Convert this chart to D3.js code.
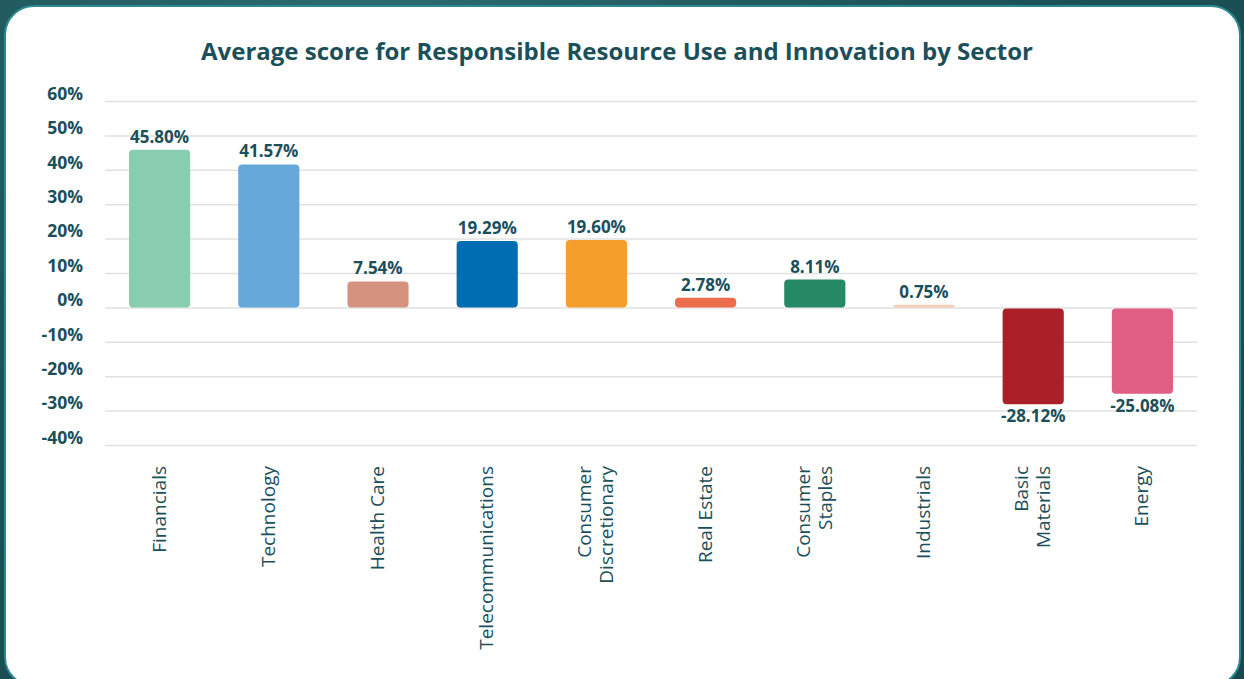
<!DOCTYPE html>
<html>
<head>
<meta charset="utf-8">
<script src="https://cdn.jsdelivr.net/npm/d3@7"></script>
<style>
  html, body { margin: 0; padding: 0; }
  body {
    width: 1244px; height: 679px; overflow: hidden;
    background: radial-gradient(ellipse at 30% 0%, #2b6b70 0%, #1d5459 45%, #174a50 100%);
    font-family: "Open Sans", "Lato", sans-serif;
  }
  .card {
    position: absolute; left: 4px; top: 5px; width: 1233px; height: 678px;
    background: #fff; border: 2px solid #2c8a92; border-radius: 30px;
  }
  svg { position: absolute; left: 0; top: 0; }
</style>
</head>
<body>
<div class="card"></div>
<div class="barchart"></div>
<script>
// data
var sectors = ["Financials", "Technology", "Health Care", "Telecommunications", "Consumer Discretionary",
               "Real Estate", "Consumer Staples", "Industrials", "Basic Materials", "Energy"];
// how each label is wrapped on the axis
var sectorLines = [["Financials"], ["Technology"], ["Health Care"], ["Telecommunications"],
                   ["Consumer", "Discretionary"], ["Real Estate"], ["Consumer", "Staples"],
                   ["Industrials"], ["Basic", "Materials"], ["Energy"]];
var scores = [45.80, 41.57, 7.54, 19.29, 19.60, 2.78, 8.11, 0.75, -28.12, -25.08];
var colors = ["#88cdb0", "#67a8da", "#d5937f", "#006db2", "#f59e2b",
              "#ec6d4c", "#268966", "#f8cbb4", "#aa1f28", "#e05e83"];
var yTicks = [-40, -30, -20, -10, 0, 10, 20, 30, 40, 50, 60];

var textColor = "#1b4f5a";

var svg = d3.select("body").select(".barchart").append("svg")
    .attr("width", 1244)
    .attr("height", 679);

// title
svg.append("text")
  .attr("x", 617)
  .attr("y", 60)
  .attr("text-anchor", "middle")
  .style("font-size", "24px")
  .style("font-weight", 700)
  .style("fill", textColor)
  .text("Average score for Responsible Resource Use and Innovation by Sector");

// axis
var x = d3.scaleBand()
    .domain(sectors)
    .range([105, 1197])
    .paddingInner(0.44)
    .paddingOuter(0.22);

var y = d3.scaleLinear()
    .domain([-40, 60])
    .range([445, 101]);

// grid + y labels
var yAxis = svg.append("g")
  .attr("class", "y-axis")
  .attr("transform", "translate(105,0)")
  .call(d3.axisLeft(y).tickValues(yTicks).tickSize(-1092).tickFormat(d => d + "%"));

yAxis.select(".domain").remove();
yAxis.selectAll(".tick line")
  .attr("stroke", "#e1e1e1")
  .attr("stroke-width", 1.5);
yAxis.selectAll(".tick text")
  .attr("x", -22)
  .attr("dy", "-0.1em")
  .style("font-family", "'Open Sans', sans-serif")
  .style("font-size", "17.5px")
  .style("font-weight", 700)
  .style("fill", textColor);

// bars
svg.selectAll(".bar")
  .data(scores)
  .enter().append("rect")
    .attr("class", "bar")
    .attr("x", (d, i) => x(sectors[i]))
    .attr("width", x.bandwidth())
    .attr("y", d => d >= 0 ? y(d) : y(0) + 1)
    .attr("height", d => Math.max(1.5, Math.abs(y(d) - y(0)) - (d >= 0 ? 0 : 1)))
    .attr("rx", 4)
    .style("fill", (d, i) => colors[i]);

// value labels
svg.selectAll(".val")
  .data(scores)
  .enter().append("text")
    .attr("class", "val")
    .attr("x", (d, i) => x(sectors[i]) + x.bandwidth() / 2)
    .attr("y", d => d >= 0 ? y(d) - 7 : y(d) + 18)
    .attr("text-anchor", "middle")
    .style("font-size", "17px")
    .style("font-weight", 700)
    .style("fill", textColor)
    .text(d => d.toFixed(2) + "%");

// x labels, rotated
var xl = svg.selectAll(".xlab")
  .data(sectorLines)
  .enter().append("text")
    .attr("class", "xlab")
    .attr("transform", (d, i) => "translate(" + (x(sectors[i]) + x.bandwidth() / 2) + ",466) rotate(-90)")
    .attr("text-anchor", "end")
    .style("font-size", "19px")
    .style("font-weight", 500)
    .style("fill", textColor);

xl.each(function(lines) {
  var t = d3.select(this);
  var start = lines.length === 1 ? 6 : -5;
  lines.forEach((l, k) => {
    t.append("tspan")
      .attr("x", 0)
      .attr("y", start + k * 22)
      .text(l);
  });
});
</script>
</body>
</html>
